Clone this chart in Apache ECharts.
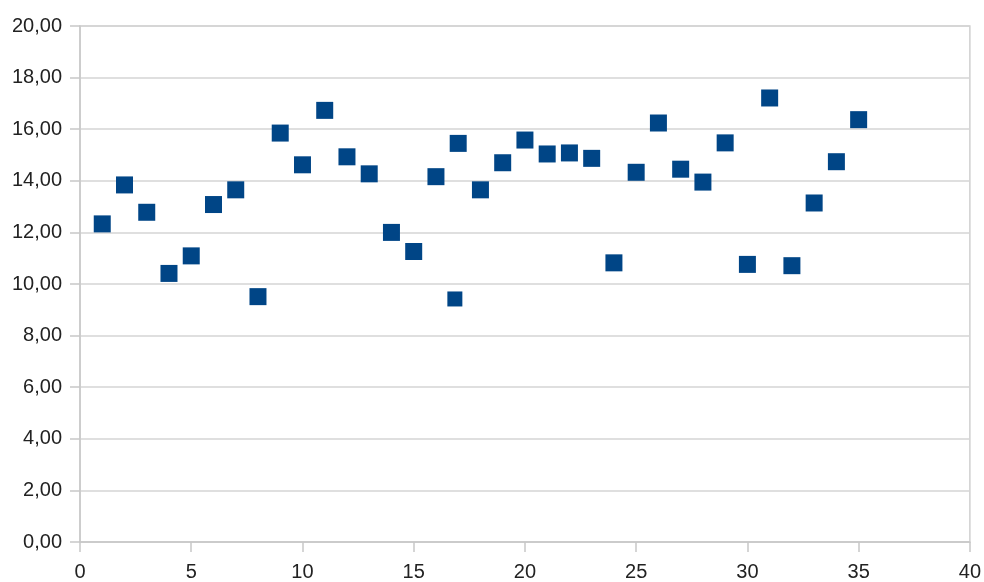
<!DOCTYPE html>
<html>
<head>
<meta charset="utf-8">
<script src="https://cdn.jsdelivr.net/npm/echarts@6/dist/echarts.min.js"></script>
<style>
html,body{margin:0;padding:0;background:#fff;}
#chart{width:984px;height:582px;}
</style>
</head>
<body>
<div id="chart"></div>
<script>
const xValues = [1,2,3,4,5,6,7,8,9,10,11,12,13,14,15,16,17,18,19,20,21,22,23,24,25,26,27,28,29,30,31,32,33,34,35];
const yValues = [12.33,13.84,12.78,10.41,11.09,13.08,13.65,9.51,15.85,14.62,16.73,14.93,14.27,12.00,11.26,14.16,15.45,13.65,14.70,15.58,15.04,15.08,14.87,10.82,14.33,16.24,14.45,13.95,15.47,10.76,17.21,10.71,13.14,14.74,16.37];
const extraX = [16.85];
const extraY = [9.42];
const xTicks = [0,5,10,15,20,25,30,35,40];
const yTicks = [0,2,4,6,8,10,12,14,16,18,20];

const mainData = xValues.map((x,i)=>[x,yValues[i]]);
const extraData = extraX.map((x,i)=>[x,extraY[i]]);

const chart = echarts.init(document.getElementById('chart'), null, {renderer:'canvas'});
const labelFont = {fontFamily:'Liberation Sans', fontSize:20, color:'#222'};
chart.setOption({
  animation:false,
  backgroundColor:'#fff',
  grid:{left:80,right:13,top:26,bottom:37,show:true,borderColor:'#d0d0d0',borderWidth:1.5,containLabel:false},
  xAxis:{
    type:'value',min:xTicks[0],max:xTicks[xTicks.length-1],interval:5,
    axisLine:{show:true,lineStyle:{color:'#c8c8c8',width:1.5}},
    axisTick:{show:true,length:10,lineStyle:{color:'#c8c8c8',width:1.5}},
    splitLine:{show:false},
    axisLabel:Object.assign({margin:20},labelFont)
  },
  yAxis:{
    type:'value',min:yTicks[0],max:yTicks[yTicks.length-1],interval:2,
    axisLine:{show:true,lineStyle:{color:'#c8c8c8',width:1.5}},
    axisTick:{show:true,length:10,lineStyle:{color:'#c8c8c8',width:1.5}},
    splitLine:{show:true,lineStyle:{color:'#d4d4d4',width:1.5}},
    axisLabel:Object.assign({margin:18,formatter:v=>v.toFixed(2).replace('.',',')},labelFont)
  },
  series:[
    {type:'scatter',data:mainData,symbol:'rect',symbolSize:17,itemStyle:{color:'#004586',opacity:1}},
    {type:'scatter',data:extraData,symbol:'rect',symbolSize:15,itemStyle:{color:'#004586',opacity:1}}
  ]
});
</script>
</body>
</html>
